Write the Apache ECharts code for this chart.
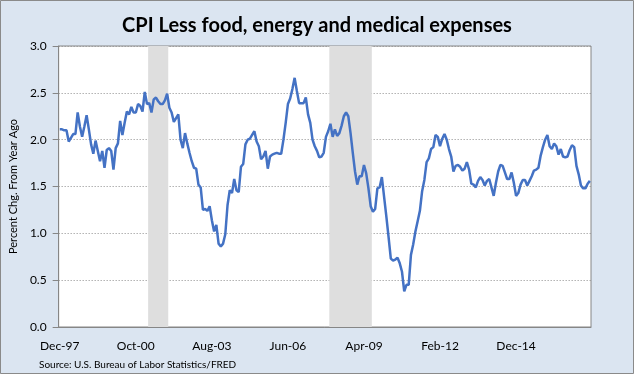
<!DOCTYPE html>
<html>
<head>
<meta charset="utf-8">
<script src="https://cdn.jsdelivr.net/npm/echarts@6/dist/echarts.min.js"></script>
<style>html,body{margin:0;padding:0;background:#dbe5f1;}#c{width:634px;height:374px;}</style>
</head>
<body>
<div id="c"></div>
<script>
// Monthly series, Dec-1997 .. Sep-2017 (percent change from year ago)
var startYear = 1997, startMonth = 11; // December 1997
var values1998_2001 = [2.11,2.11,2.10,2.10,1.98,2.02,2.06,2.06,2.29,2.14,
  2.03,2.14,2.26,2.11,1.95,1.85,1.99,1.88,1.77,1.88,
  1.70,1.89,1.91,1.88,1.68,1.91,1.96,2.20,2.05,2.18,
  2.30,2.27,2.35,2.29,2.29,2.38,2.36,2.30,2.51,2.38,
  2.39,2.29,2.43,2.45,2.41,2.38,2.38,2.42,2.49,2.34];
var values2002_2005 = [2.29,2.19,2.23,2.27,2.00,1.91,2.07,1.96,1.86,1.77,
  1.70,1.69,1.52,1.49,1.25,1.26,1.24,1.29,1.14,1.02,
  1.09,0.89,0.86,0.89,0.99,1.30,1.46,1.43,1.58,1.46,
  1.44,1.71,1.74,1.95,2.00,2.01,2.05,2.09,1.98,1.93,
  1.79,1.82,1.88,1.69,1.82,1.84,1.85,1.86,1.85,1.85];
var values2006_2010 = [2.00,2.18,2.38,2.44,2.54,2.66,2.52,2.39,2.39,2.39,
  2.45,2.27,2.18,2.00,1.93,1.88,1.81,1.82,1.86,2.03,
  2.09,2.17,2.03,2.11,2.04,2.07,2.15,2.25,2.29,2.25,
  2.07,1.86,1.66,1.52,1.61,1.61,1.73,1.64,1.48,1.29,
  1.23,1.26,1.48,1.49,1.60,1.39,1.18,0.96,0.73,0.71,
  0.72,0.74,0.68,0.59,0.38,0.45,0.45,0.77,0.88,1.02];
var values2011_2017 = [1.13,1.24,1.45,1.57,1.76,1.80,1.90,1.92,2.05,2.03,
  1.93,2.01,2.06,2.00,1.90,1.82,1.66,1.72,1.73,1.71,
  1.67,1.69,1.76,1.68,1.53,1.52,1.49,1.56,1.60,1.57,
  1.51,1.56,1.58,1.49,1.40,1.54,1.66,1.73,1.72,1.65,
  1.58,1.58,1.65,1.54,1.40,1.43,1.52,1.57,1.57,1.51,
  1.56,1.61,1.67,1.68,1.70,1.83,1.92,2.00,2.05,1.93,
  1.90,1.96,1.93,1.84,1.90,1.82,1.81,1.82,1.89,1.94,
  1.92,1.72,1.63,1.51,1.48,1.48,1.53,1.56];
var recessions = [['Apr-01','Dec-01'],['Jan-08','Jul-09']];
var yTicks = [0, 0.5, 1.0, 1.5, 2.0, 2.5, 3.0];

var values = values1998_2001.concat(values2002_2005, values2006_2010, values2011_2017);
var mon = ['Jan','Feb','Mar','Apr','May','Jun','Jul','Aug','Sep','Oct','Nov','Dec'];
var categories = [];
for (var i = 0; i < values.length; i++) {
  var m = startMonth + i;
  var y = startYear + Math.floor(m / 12);
  categories.push(mon[m % 12] + '-' + String(y % 100).padStart(2, '0'));
}
var yMax = yTicks[yTicks.length - 1];
var shadeData = recessions.map(function(r){
  return [categories.indexOf(r[0]), categories.indexOf(r[1])];
});

var FONT = 'Lato';
var chart = echarts.init(document.getElementById('c'));
chart.setOption({
  backgroundColor: '#dbe5f1',
  animation: false,
  textStyle: { fontFamily: FONT },
  title: {
    text: 'CPI Less food, energy and medical expenses',
    left: 'center', top: 11,
    textStyle: { fontFamily: FONT, fontSize: 20, fontWeight: 'bold', color: '#000' }
  },
  grid: {
    left: 56, right: 43, top: 46, bottom: 47,
    show: true, backgroundColor: '#ffffff', borderColor: '#868686', borderWidth: 1
  },
  xAxis: {
    type: 'category',
    data: categories,
    boundaryGap: true,
    axisLine: { show: true, lineStyle: { color: '#868686', width: 1 } },
    axisTick: { show: false },
    axisLabel: { interval: 33, margin: 13, fontSize: 12, color: '#000', fontFamily: FONT },
    splitLine: { show: false }
  },
  yAxis: {
    type: 'value',
    min: 0, max: 3, interval: 0.5,
    name: 'Percent Chg. From Year Ago',
    nameLocation: 'middle', nameGap: 35, nameRotate: 90,
    nameTextStyle: { fontSize: 11, color: '#000', fontFamily: FONT },
    axisLine: { show: true, lineStyle: { color: '#868686', width: 1 } },
    axisTick: { show: true, length: 6, lineStyle: { color: '#868686' } },
    axisLabel: { margin: 12, fontSize: 12, color: '#000', fontFamily: FONT,
      formatter: function(v){ return v.toFixed(1); } },
    splitLine: { show: true, lineStyle: { color: '#8c8c8c', width: 1, type: [1, 2] } }
  },
  series: [
    {
      type: 'custom', data: shadeData, silent: true, z: 1,
      encode: { x: [0, 1] },
      renderItem: function(params, api) {
        var band = api.size([1, 0])[0];
        var p0 = api.coord([api.value(0), yMax]);
        var p1 = api.coord([api.value(1), 0]);
        var x0 = p0[0] - band / 2, x1 = p1[0] + band / 2;
        return {
          type: 'rect',
          shape: { x: x0, y: p0[1], width: x1 - x0, height: p1[1] - p0[1] },
          style: { fill: '#dedede' }
        };
      }
    },
    {
      type: 'line', data: values, symbol: 'none', smooth: false,
      lineStyle: { color: '#4472c4', width: 2.5 }, z: 3
    }
  ],
  graphic: [
    { type: 'text', left: 39, top: 360, style: { text: 'Source: U.S. Bureau of Labor Statistics/FRED', fontSize: 10, fill: '#000', fontFamily: FONT } },
    { type: 'rect', shape: { x: 0.5, y: 0.5, width: 633, height: 373 }, style: { fill: 'none', stroke: '#8a8a8a', lineWidth: 1 }, silent: true }
  ]
});
</script>
</body>
</html>
